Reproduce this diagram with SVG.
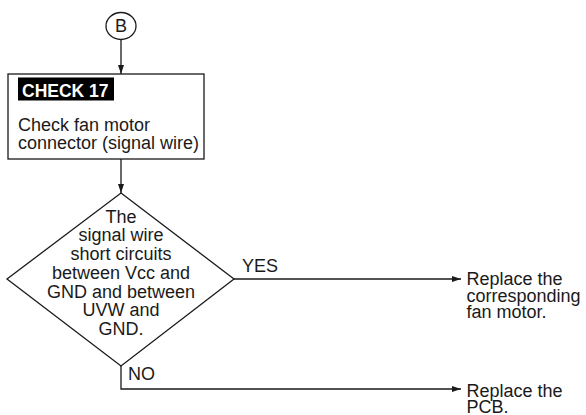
<svg xmlns="http://www.w3.org/2000/svg" width="586" height="415" viewBox="0 0 586 415">
<style>
  .ln { fill: none; stroke: #1a1a1a; stroke-width: 1.3; }
  .shape { fill: #ffffff; stroke: #1a1a1a; stroke-width: 1.3; }
  .t { font-family: "Liberation Sans", Arial, sans-serif; font-size: 18px; fill: #1a1a1a; }
  .c { text-anchor: middle; }
  .hd { font-family: "Liberation Sans", Arial, sans-serif; font-size: 17.5px; font-weight: bold; fill: #ffffff; }
</style>
<defs>
  <marker id="arr" markerUnits="userSpaceOnUse" markerWidth="10" markerHeight="8" refX="9" refY="3" orient="auto">
    <path d="M0,0 L9,3 L0,6 Z" fill="#1a1a1a"/>
  </marker>
</defs>
<rect width="586" height="415" fill="#ffffff"/>
<g id="connectors">
  <line class="ln" x1="121" y1="39.5" x2="121" y2="74" marker-end="url(#arr)"/>
  <line class="ln" x1="121" y1="159" x2="121" y2="193" marker-end="url(#arr)"/>
  <polyline class="ln" points="234,279 461,279" marker-end="url(#arr)"/>
  <polyline class="ln" points="121,366 121,389 461,389" marker-end="url(#arr)"/>
  <text class="t" x="242" y="272">YES</text>
  <text class="t" x="128" y="380">NO</text>
</g>
<g id="nodeB">
  <ellipse class="shape" cx="121" cy="26" rx="15" ry="13.5"/>
  <text class="t c" x="121" y="32">B</text>
</g>
<g id="check17">
  <rect class="shape" x="8" y="74" width="196" height="85"/>
  <rect x="18" y="77.5" width="96" height="23" fill="#000000"/>
  <text class="hd" x="22" y="96.5">CHECK 17</text>
  <text class="t" x="18" y="131">Check fan motor</text>
  <text class="t" x="18" y="148.5">connector (signal wire)</text>
</g>
<g id="decision">
  <polygon class="shape" points="121,193 234,279 121,366 7,279"/>
  <text class="t c" x="121" y="222.7">The</text>
  <text class="t c" x="121" y="241.4">signal wire</text>
  <text class="t c" x="121" y="260.1">short circuits</text>
  <text class="t c" x="121" y="278.8">between Vcc and</text>
  <text class="t c" x="121" y="297.5">GND and between</text>
  <text class="t c" x="121" y="316.2">UVW and</text>
  <text class="t c" x="121" y="334.9">GND.</text>
</g>
<g id="replaceMotor">
  <text class="t" x="466.5" y="285">Replace the</text>
  <text class="t" x="466.5" y="301.7">corresponding</text>
  <text class="t" x="466.5" y="318.4">fan motor.</text>
</g>
<g id="replacePCB">
  <text class="t" x="466.5" y="396.5">Replace the</text>
  <text class="t" x="466.5" y="412.5">PCB.</text>
</g>
</svg>
